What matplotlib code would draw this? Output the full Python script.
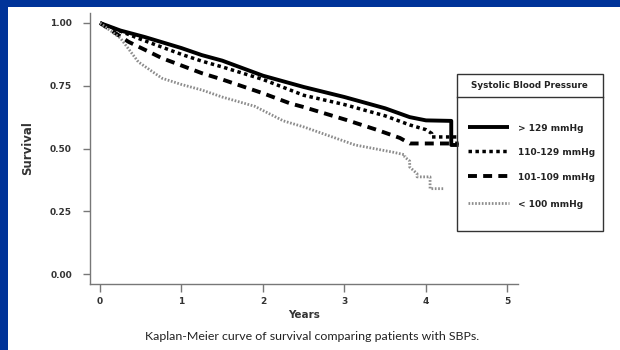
import matplotlib
matplotlib.use("Agg")
import matplotlib.pyplot as plt
from matplotlib.lines import Line2D
from matplotlib.patches import Rectangle

# Kaplan-Meier survival by systolic blood pressure group (years, survival)
t_gt129 = [0, 0.25, 0.55, 1.0, 1.25, 1.5, 2.0, 2.5, 3.0, 3.5, 3.8, 4.0, 4.31, 4.31, 4.4]
s_gt129 = [1.0, 0.97, 0.944, 0.90, 0.872, 0.85, 0.79, 0.745, 0.705, 0.66, 0.625, 0.612, 0.61, 0.514, 0.514]

t_110_129 = [0, 0.5, 1.0, 1.25, 1.5, 2.0, 2.5, 3.0, 3.5, 3.8, 4.0, 4.07, 4.07, 4.4]
s_110_129 = [1.0, 0.935, 0.875, 0.848, 0.825, 0.775, 0.712, 0.675, 0.63, 0.594, 0.575, 0.56, 0.546, 0.546]

t_101_109 = [0, 0.35, 0.76, 1.25, 1.5, 2.0, 2.33, 2.5, 3.03, 3.4, 3.68, 3.8, 4.4]
s_101_109 = [1.0, 0.925, 0.86, 0.80, 0.775, 0.72, 0.68, 0.665, 0.613, 0.574, 0.542, 0.52, 0.52]

t_lt100 = [0, 0.25, 0.47, 0.76, 1.0, 1.25, 1.5, 1.9, 2.25, 2.5, 3.13, 3.6, 3.74, 3.74,
           3.8, 3.8, 3.89, 3.89, 4.05, 4.05, 4.23]
s_lt100 = [1.0, 0.94, 0.845, 0.78, 0.755, 0.733, 0.705, 0.668, 0.61, 0.586, 0.514, 0.485, 0.475, 0.466,
           0.45, 0.426, 0.40, 0.387, 0.387, 0.34, 0.34]

group_labels = ["> 129 mmHg", "110-129 mmHg", "101-109 mmHg", "< 100 mmHg"]
x_ticks = [0, 1, 2, 3, 4, 5]
y_ticks = [0.0, 0.25, 0.50, 0.75, 1.00]

styles = [
    dict(color="black", lw=2.8, linestyle="-", solid_capstyle="butt"),
    dict(color="black", lw=2.5, linestyle=(0, (1, 1))),
    dict(color="black", lw=2.8, linestyle=(0, (2.3, 1.6))),
    dict(color="#8c8c8c", lw=2.0, linestyle=(0, (0.6, 0.6))),
]

LABEL_FONT = "DejaVu Sans"
W, H = 620, 350
fig = plt.figure(figsize=(W / 100, H / 100), dpi=100, facecolor="white")

# blue frame along the top and left edges
fig.add_artist(Rectangle((0, 0), 8 / W, 1, transform=fig.transFigure, color="#003399", lw=0))
fig.add_artist(Rectangle((0, 1 - 7 / H), 1, 7 / H, transform=fig.transFigure, color="#003399", lw=0))

ax = fig.add_axes([90 / W, 1 - 284 / H, 428 / W, 271 / H])
ax.set_xlim(-0.1227, 5.129)
ax.set_ylim(-0.0398, 1.0398)

series = [(t_gt129, s_gt129), (t_110_129, s_110_129), (t_101_109, s_101_109), (t_lt100, s_lt100)]
for (tt, ss), st in zip(series, styles):
    ax.plot(tt, ss, **st)

for side in ["top", "right"]:
    ax.spines[side].set_visible(False)
for side in ["left", "bottom"]:
    ax.spines[side].set_color("#777777")
    ax.spines[side].set_linewidth(1.0)

ax.set_xticks(x_ticks)
ax.set_xticklabels([str(v) for v in x_ticks])
ax.set_yticks(y_ticks)
ax.set_yticklabels([f"{v:.2f}" for v in y_ticks])
for lab in ax.get_xticklabels() + ax.get_yticklabels():
    lab.set(fontfamily=LABEL_FONT, fontweight="bold", fontsize=6.5, color="#333333")
ax.tick_params(axis="y", length=5, width=1, color="#777777", pad=8)
ax.tick_params(axis="x", length=6, width=1, color="#777777", pad=3)

ax.set_xlabel("Years", fontfamily=LABEL_FONT, fontweight="bold", fontsize=7.5, color="#333333", labelpad=3)
fig.text(28 / W, 1 - 148 / H, "Survival", rotation=90, ha="center", va="center",
         fontfamily=LABEL_FONT, fontweight="bold", fontsize=8.5, color="#333333")

fig.text(312 / W, 1 - 337 / H, "Kaplan-Meier curve of survival comparing patients with SBPs.",
         ha="center", va="center", fontfamily="Lato", fontsize=8.9, color="#222222")

# legend box with title row
bx0, bx1, by0, by1 = 457, 603, 74, 231
fig.add_artist(Rectangle((bx0 / W, 1 - by1 / H), (bx1 - bx0) / W, (by1 - by0) / H,
                         transform=fig.transFigure, fill=False, ec="#333333", lw=1.0))
fig.add_artist(Line2D([bx0 / W, bx1 / W], [1 - 97 / H, 1 - 97 / H], transform=fig.transFigure,
                      color="#333333", lw=1.0))
fig.text(529 / W, 1 - 86 / H, "Systolic Blood Pressure", ha="center", va="center",
         fontfamily=LABEL_FONT, fontweight="bold", fontsize=6.3, color="#222222")
row_y = [127, 151, 176, 203]
for yy, lab, st in zip(row_y, group_labels, styles):
    fig.add_artist(Line2D([468 / W, 509 / W], [1 - yy / H, 1 - yy / H], transform=fig.transFigure, **st))
    fig.text(518 / W, 1 - (yy + 1.5) / H, lab, ha="left", va="center",
             fontfamily=LABEL_FONT, fontweight="bold", fontsize=6.5, color="#222222")

fig.savefig("out.png", dpi=100, facecolor="white")
